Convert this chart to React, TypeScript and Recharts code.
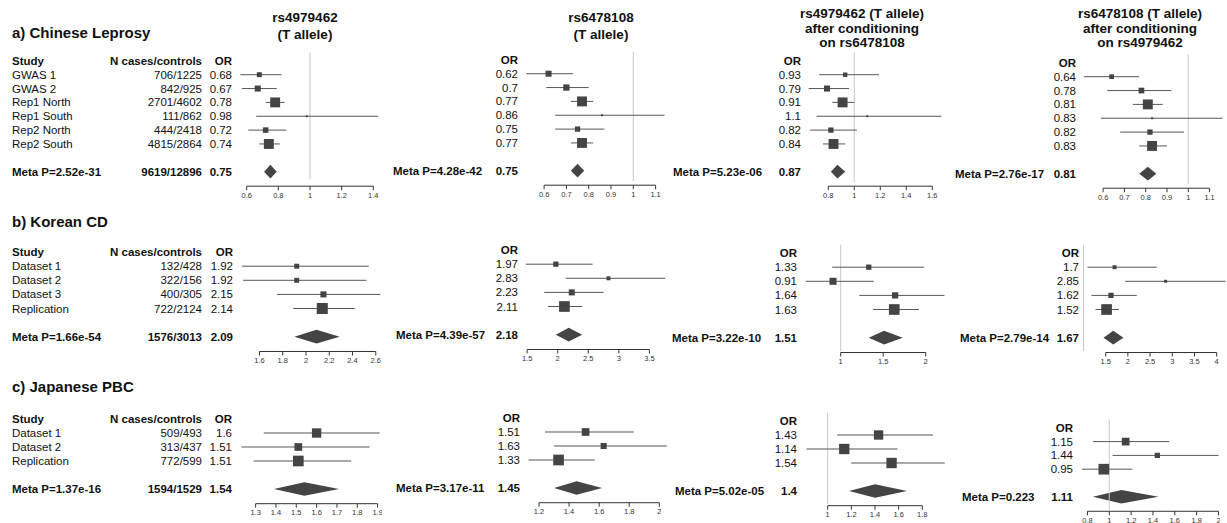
import React from 'react';
import { ComposedChart, XAxis, YAxis, Scatter, ReferenceLine, ReferenceArea } from 'recharts';

const FONT = '"Liberation Sans", Arial, Helvetica, sans-serif';
const BOX_MAX = 11;

// a) Chinese Leprosy
const leprosyStudies = ['GWAS 1', 'GWAS 2', 'Rep1 North', 'Rep1 South', 'Rep2 North', 'Rep2 South'];
const leprosyN = ['706/1225', '842/925', '2701/4602', '111/862', '444/2418', '4815/2864'];
const leprosyTotal = '9619/12896';

const a1Or = [0.68, 0.67, 0.78, 0.98, 0.72, 0.74];
const a1Lo = [0.56, 0.57, 0.72, 0.66, 0.61, 0.68];
const a1Hi = [0.82, 0.79, 0.84, 1.43, 0.85, 0.81];
const a1W = [0.45, 0.55, 0.9, 0.18, 0.5, 0.9];
const a1Meta = [0.75, 0.71, 0.79];

const a2Or = [0.62, 0.7, 0.77, 0.86, 0.75, 0.77];
const a2Lo = [0.52, 0.61, 0.72, 0.65, 0.65, 0.72];
const a2Hi = [0.73, 0.8, 0.82, 1.14, 0.87, 0.82];
const a2W = [0.55, 0.57, 0.9, 0.18, 0.48, 0.9];
const a2Meta = [0.75, 0.72, 0.78];

const a3Or = [0.93, 0.79, 0.91, 1.1, 0.82, 0.84];
const a3Lo = [0.73, 0.65, 0.83, 0.71, 0.66, 0.76];
const a3Hi = [1.19, 0.96, 1.0, 1.67, 1.02, 0.93];
const a3W = [0.4, 0.55, 0.9, 0.18, 0.48, 0.9];
const a3Meta = [0.87, 0.82, 0.93];

const a4Or = [0.64, 0.78, 0.81, 0.83, 0.82, 0.83];
const a4Lo = [0.51, 0.62, 0.74, 0.59, 0.68, 0.77];
const a4Hi = [0.77, 0.92, 0.88, 1.16, 0.98, 0.9];
const a4W = [0.43, 0.52, 0.9, 0.18, 0.48, 0.9];
const a4Meta = [0.81, 0.77, 0.85];

// b) Korean CD
const koreanStudies = ['Dataset 1', 'Dataset 2', 'Dataset 3', 'Replication'];
const koreanN = ['132/428', '322/156', '400/305', '722/2124'];
const koreanTotal = '1576/3013';

const b1Or = [1.92, 1.92, 2.15, 2.14];
const b1Lo = [1.45, 1.46, 1.75, 1.89];
const b1Hi = [2.54, 2.52, 2.64, 2.42];
const b1W = [0.45, 0.45, 0.55, 1];
const b1Meta = [2.09, 1.9, 2.29];

const b2Or = [1.97, 2.83, 2.23, 2.11];
const b2Lo = [1.48, 2.13, 1.78, 1.84];
const b2Hi = [2.57, 3.76, 2.75, 2.4];
const b2W = [0.48, 0.36, 0.55, 0.97];
const b2Meta = [2.18, 1.97, 2.4];

const b3Or = [1.33, 0.91, 1.64, 1.63];
const b3Lo = [0.9, 0.59, 1.22, 1.38];
const b3Hi = [1.98, 1.39, 2.22, 1.92];
const b3W = [0.48, 0.64, 0.57, 0.97];
const b3Meta = [1.51, 1.33, 1.73];

const b4Or = [1.7, 2.85, 1.62, 1.52];
const b4Lo = [1.09, 1.94, 1.18, 1.27];
const b4Hi = [2.65, 4.2, 2.2, 1.8];
const b4W = [0.36, 0.27, 0.48, 0.97];
const b4Meta = [1.67, 1.45, 1.9];

// c) Japanese PBC
const japaneseStudies = ['Dataset 1', 'Dataset 2', 'Replication'];
const japaneseN = ['509/493', '313/437', '772/599'];
const japaneseTotal = '1594/1529';

const c1Or = [1.6, 1.51, 1.51];
const c1Lo = [1.34, 1.23, 1.29];
const c1Hi = [1.91, 1.86, 1.77];
const c1W = [0.85, 0.7, 0.97];
const c1Meta = [1.54, 1.39, 1.71];

const c2Or = [1.51, 1.63, 1.33];
const c2Lo = [1.24, 1.3, 1.13];
const c2Hi = [1.83, 2.05, 1.57];
const c2W = [0.7, 0.55, 0.97];
const c2Meta = [1.45, 1.3, 1.62];

const c3Or = [1.43, 1.14, 1.54];
const c3Lo = [1.08, 0.82, 1.2];
const c3Hi = [1.89, 1.59, 1.99];
const c3W = [0.85, 0.94, 0.94];
const c3Meta = [1.4, 1.18, 1.67];

const c4Or = [1.15, 1.44, 0.95];
const c4Lo = [0.85, 1.03, 0.75];
const c4Hi = [1.55, 2.0, 1.21];
const c4W = [0.7, 0.48, 0.97];
const c4Meta = [1.11, 0.85, 1.45];

const metaP = {
  a: ['2.52e-31', '4.28e-42', '5.23e-06', '2.76e-17'],
  b: ['1.66e-54', '4.39e-57', '3.22e-10', '2.79e-14'],
  c: ['1.37e-16', '3.17e-11', '5.02e-05', '0.223'],
};

const ticksA1 = [0.6, 0.8, 1, 1.2, 1.4];
const ticksA2 = [0.6, 0.7, 0.8, 0.9, 1, 1.1];
const ticksA3 = [0.8, 1, 1.2, 1.4, 1.6];
const ticksA4 = [0.6, 0.7, 0.8, 0.9, 1, 1.1];
const ticksB1 = [1.6, 1.8, 2, 2.2, 2.4, 2.6];
const ticksB2 = [1.5, 2, 2.5, 3, 3.5];
const ticksB3 = [1, 1.5, 2];
const ticksB4 = [1.5, 2, 2.5, 3, 3.5, 4];
const ticksC1 = [1.3, 1.4, 1.5, 1.6, 1.7, 1.8, 1.9];
const ticksC2 = [1.2, 1.4, 1.6, 1.8, 2];
const ticksC3 = [1, 1.2, 1.4, 1.6, 1.8];
const ticksC4 = [0.8, 1, 1.2, 1.4, 1.6, 1.8, 2];

type PanelProps = {
  left: number;
  headerY: number;
  rowH: number;
  refV: number;
  refPx: number;
  k: number;
  domain: [number, number];
  ticks: number[];
  or: number[];
  lo: number[];
  hi: number[];
  w: number[];
  meta: number[];
  p: string;
  orRight: number;
  metaLeft: number;
  lineGap: number;
  studies?: string[];
  ns?: string[];
  total?: string;
};

const ForestPanel = (props: PanelProps) => {
  const { left, headerY, rowH, refV, refPx, k, domain, ticks, or, lo, hi, w, meta, p, orRight, metaLeft, lineGap, studies, ns, total } = props;
  const n = or.length;
  const metaRow = n + 2;
  const axisRow = metaRow + 1.05;
  const plotLeft = refPx + (domain[0] - refV) * k;
  const plotRight = refPx + (domain[1] - refV) * k;
  const width = plotRight - left;
  const yW = plotLeft - left;
  const height = (axisRow + 1) * rowH + 20;
  const top = headerY - rowH;
  const rows = or.map((v, i) => ({ row: i + 1, or: v, lo: lo[i], hi: hi[i], w: w[i] }));
  const tickRows = [0, ...rows.map((r) => r.row), metaRow];
  const hasOne = domain[0] < 1 && domain[1] > 1;

  const txt = (key: string, x: number, y: number, s: string, anchor: string, bold: boolean) => (
    <text key={key} x={x} y={y} dy="0.35em" textAnchor={anchor as any} fontSize={11.5}
      fontWeight={bold ? 'bold' : 'normal'} fontFamily={FONT} fill="#111">{s}</text>
  );

  const renderRowTick = (tp: any) => {
    const v = tp.payload ? tp.payload.value : null;
    const y = tp.y;
    const orX = orRight - left;
    const items: any[] = [];
    if (v === 0) {
      if (studies) {
        items.push(txt('s', 12 - left, y, 'Study', 'start', true));
        items.push(txt('n', 202 - left, y, 'N cases/controls', 'end', true));
      }
      items.push(txt('o', orX, y, 'OR', 'end', true));
    } else if (v === metaRow) {
      items.push(txt('m', metaLeft - left, y, `Meta P=${p}`, 'start', true));
      if (total) items.push(txt('t', 202 - left, y, total, 'end', true));
      items.push(txt('o', orX, y, String(meta[0]), 'end', true));
    } else if (v != null) {
      const i = v - 1;
      if (studies && ns) {
        items.push(txt('s', 12 - left, y, studies[i], 'start', false));
        items.push(txt('n', 202 - left, y, ns[i], 'end', false));
      }
      items.push(txt('o', orX, y, String(or[i]), 'end', false));
    }
    return <g>{items}</g>;
  };

  const renderBox = (sp: any) => {
    const s = BOX_MAX * sp.payload.w;
    return <rect x={sp.cx - s / 2} y={sp.cy - s / 2} width={s} height={s} fill="#444" />;
  };

  const renderDiamond = (ap: any) => {
    const x = ap.x;
    const wd = ap.width;
    const y = Math.min(ap.y, ap.y + ap.height);
    const h = Math.abs(ap.height);
    const peak = x + (wd * (meta[0] - meta[1])) / (meta[2] - meta[1]);
    const pts = `${x},${y + h / 2} ${peak},${y} ${x + wd},${y + h / 2} ${peak},${y + h}`;
    return <polygon points={pts} fill="#444" />;
  };

  return (
    <div style={{ position: 'absolute', left, top }}>
      <ComposedChart width={width} height={height} margin={{ top: 0, right: 0, bottom: 0, left: 0 }}>
        <XAxis type="number" dataKey="or" domain={domain} ticks={ticks} interval={0} allowDataOverflow
          axisLine={false} tickLine={{ stroke: '#333' }} tickSize={4} tickMargin={2} height={20}
          tick={{ fontSize: 7.5, fill: '#333', fontFamily: FONT }} tickFormatter={(v: number) => String(v)} />
        <YAxis type="number" dataKey="row" domain={[-1, axisRow]} reversed width={yW} ticks={tickRows}
          interval={0} allowDataOverflow axisLine={false} tickLine={false} tick={renderRowTick} />
        {hasOne && (
          <ReferenceLine segment={[{ x: 1, y: -0.6 }, { x: 1, y: axisRow - lineGap }]} stroke="#c8c8c8" strokeWidth={1} ifOverflow="visible" />
        )}
        {rows.map((r) => (
          <ReferenceLine key={`ci${r.row}`} segment={[{ x: r.lo, y: r.row }, { x: r.hi, y: r.row }]} stroke="#555" strokeWidth={1} ifOverflow="visible" />
        ))}
        <ReferenceLine segment={[{ x: ticks[0], y: axisRow }, { x: ticks[ticks.length - 1], y: axisRow }]} stroke="#333" strokeWidth={1} ifOverflow="visible" />
        <Scatter data={rows} shape={renderBox} isAnimationActive={false} />
        <ReferenceArea x1={meta[1]} x2={meta[2]} y1={metaRow - 0.49} y2={metaRow + 0.49} shape={renderDiamond} ifOverflow="visible" />
      </ComposedChart>
    </div>
  );
};

const Label = ({ x, y, text, size, center }: { x: number; y: number; text: string; size: number; center?: boolean }) => (
  <div style={{
    position: 'absolute', left: center ? x - 150 : x, top: y - 10, width: center ? 300 : 'auto',
    height: 20, lineHeight: '20px', textAlign: center ? 'center' : 'left', fontSize: size,
    fontWeight: 'bold', color: '#111', whiteSpace: 'nowrap',
  }}>{text}</div>
);

const App: React.FC = () => {
  const ra = 13.85;
  const rb = 14.1;
  const rc = 14;
  return (
    <div style={{ position: 'absolute', left: 0, top: 0, width: 1227, height: 523, background: '#fff', fontFamily: FONT, overflow: 'hidden' }}>
      <Label x={12} y={33} text="a) Chinese Leprosy" size={15} />
      <Label x={12} y={222} text="b) Korean CD" size={15} />
      <Label x={12} y={387} text="c) Japanese PBC" size={15} />

      <Label x={305} y={18} text="rs4979462" size={13.5} center />
      <Label x={305} y={35} text="(T allele)" size={13.5} center />
      <Label x={601} y={18} text="rs6478108" size={13.5} center />
      <Label x={601} y={34.5} text="(T allele)" size={13.5} center />
      <Label x={862} y={13.5} text="rs4979462 (T allele)" size={13.5} center />
      <Label x={862} y={28.5} text="after conditioning" size={13.5} center />
      <Label x={862} y={43} text="on rs6478108" size={13.5} center />
      <Label x={1140} y={13.5} text="rs6478108 (T allele)" size={13.5} center />
      <Label x={1140} y={28.5} text="after conditioning" size={13.5} center />
      <Label x={1140} y={43} text="on rs4979462" size={13.5} center />

      <ForestPanel left={0} headerY={61} rowH={ra} refV={1} refPx={310} k={158.3} domain={[0.55, 1.44]} ticks={ticksA1}
        or={a1Or} lo={a1Lo} hi={a1Hi} w={a1W} meta={a1Meta} p={metaP.a[0]} orRight={232} metaLeft={12} lineGap={0.5}
        studies={leprosyStudies} ns={leprosyN} total={leprosyTotal} />
      <ForestPanel left={390} headerY={60} rowH={ra} refV={1} refPx={633.3} k={223} domain={[0.51, 1.15]} ticks={ticksA2}
        or={a2Or} lo={a2Lo} hi={a2Hi} w={a2W} meta={a2Meta} p={metaP.a[1]} orRight={518} metaLeft={393} lineGap={0.3} />
      <ForestPanel left={660} headerY={60.7} rowH={ra} refV={1} refPx={854.3} k={130} domain={[0.64, 1.68]} ticks={ticksA3}
        or={a3Or} lo={a3Lo} hi={a3Hi} w={a3W} meta={a3Meta} p={metaP.a[2]} orRight={801} metaLeft={673} lineGap={0.3} />
      <ForestPanel left={940} headerY={63.3} rowH={ra} refV={1} refPx={1188.3} k={213} domain={[0.5, 1.17]} ticks={ticksA4}
        or={a4Or} lo={a4Lo} hi={a4Hi} w={a4W} meta={a4Meta} p={metaP.a[3]} orRight={1076} metaLeft={955} lineGap={0.3} />

      <ForestPanel left={0} headerY={251.7} rowH={rb} refV={2} refPx={306} k={116.3} domain={[1.44, 2.65]} ticks={ticksB1}
        or={b1Or} lo={b1Lo} hi={b1Hi} w={b1W} meta={b1Meta} p={metaP.b[0]} orRight={233} metaLeft={12} lineGap={0.1}
        studies={koreanStudies} ns={koreanN} total={koreanTotal} />
      <ForestPanel left={390} headerY={250} rowH={rb} refV={2} refPx={557.7} k={61.15} domain={[1.47, 3.77]} ticks={ticksB2}
        or={b2Or} lo={b2Lo} hi={b2Hi} w={b2W} meta={b2Meta} p={metaP.b[1]} orRight={518} metaLeft={396} lineGap={0.1} />
      <ForestPanel left={660} headerY={253.3} rowH={rb} refV={1} refPx={840.7} k={85} domain={[0.58, 2.23]} ticks={ticksB3}
        or={b3Or} lo={b3Lo} hi={b3Hi} w={b3W} meta={b3Meta} p={metaP.b[2]} orRight={797} metaLeft={672} lineGap={0.1} />
      <ForestPanel left={940} headerY={253.3} rowH={rb} refV={1} refPx={1083.5} k={44.4} domain={[0.98, 4.22]} ticks={ticksB4}
        or={b4Or} lo={b4Lo} hi={b4Hi} w={b4W} meta={b4Meta} p={metaP.b[3]} orRight={1079} metaLeft={960} lineGap={0.1} />

      <ForestPanel left={0} headerY={419.3} rowH={rc} refV={1.5} refPx={296.3} k={203.3} domain={[1.22, 1.92]} ticks={ticksC1}
        or={c1Or} lo={c1Lo} hi={c1Hi} w={c1W} meta={c1Meta} p={metaP.c[0]} orRight={232} metaLeft={12} lineGap={0.1}
        studies={japaneseStudies} ns={japaneseN} total={japaneseTotal} />
      <ForestPanel left={390} headerY={418.3} rowH={rc} refV={1.2} refPx={539} k={150.4} domain={[1.12, 2.06]} ticks={ticksC2}
        or={c2Or} lo={c2Lo} hi={c2Hi} w={c2W} meta={c2Meta} p={metaP.c[1]} orRight={520} metaLeft={396} lineGap={0.1} />
      <ForestPanel left={660} headerY={420.7} rowH={rc} refV={1} refPx={827.7} k={118.3} domain={[0.81, 2.0]} ticks={ticksC3}
        or={c3Or} lo={c3Lo} hi={c3Hi} w={c3W} meta={c3Meta} p={metaP.c[2]} orRight={797} metaLeft={675} lineGap={0.1} />
      <ForestPanel left={940} headerY={427.3} rowH={13.8} refV={1} refPx={1109.3} k={109.2} domain={[0.74, 2.01]} ticks={ticksC4}
        or={c4Or} lo={c4Lo} hi={c4Hi} w={c4W} meta={c4Meta} p={metaP.c[3]} orRight={1073} metaLeft={962} lineGap={0.1} />
    </div>
  );
};

export default App;
